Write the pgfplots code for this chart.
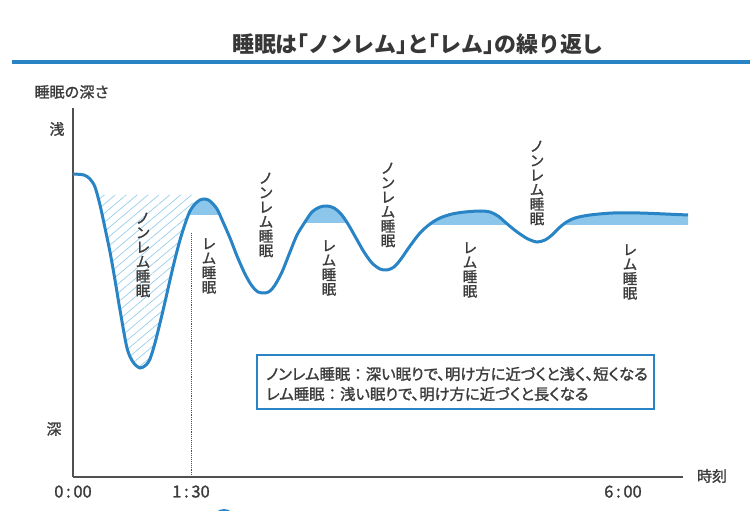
\documentclass[border=0pt]{standalone}
\usepackage{fontspec}
\setmainfont{Noto Sans CJK JP}
\newfontfamily\titlefont{Noto Sans CJK JP}[RawFeature=+halt]
\newfontfamily\lbl{Noto Sans CJK JP}[FakeBold=1.5]
\newfontfamily\boxfont{Noto Sans CJK JP}[RawFeature=+palt, FakeBold=1.5]
\usepackage{pgfplots}
\pgfplotsset{compat=1.18}
\usepgfplotslibrary{fillbetween}
\usetikzlibrary{patterns.meta}
\definecolor{curveblue}{RGB}{40,132,196}
\definecolor{fillblue}{RGB}{140,198,235}
\definecolor{hatchblue}{RGB}{150,205,235}
\definecolor{txt}{RGB}{60,60,60}
\definecolor{axisgray}{RGB}{80,80,80}
\begin{document}
\begin{tikzpicture}
\begin{axis}[
  at={(73bp,34bp)}, anchor=south west,
  scale only axis, width=610bp, height=369bp,
  xmin=73, xmax=683, ymin=34, ymax=403,
  axis x line=bottom, axis y line=left,
  axis line style={-, draw=axisgray, line width=1.3bp},
  xtick={73,191,623}, xticklabels={0\,:\,00,1\,:\,30,6\,:\,00},
  ytick=\empty, major tick length=0pt,
  xticklabel style={font=\lbl\fontsize{16.5}{16.5}\selectfont, text=txt, yshift=-5bp},
  clip=false,
]
\addplot[name path=curve, draw=none, smooth] coordinates {
(73,337)(84,336)(90,332)(95,324)(100,306)(105,283)(110,259)(115,231)(120,201)
(127,163)(133,149)(140,143)(146,146)(150,152)(155,168)(160,188)(165,209)(170,231)
(175,252)(180,271)(185,287)(190,300)(195,307)(200,311)(205,312)(210,310)(217,302)
(223,289)(230,273)(237,255)(245,237)(252,225)(258,219)(265,218)(270,220)(275,226)
(282,239)(290,259)(297,276)(305,289)(312,299)(320,304)(327,305)(334,303)(341,297)
(348,287)(356,273)(364,259)(372,248)(380,242)(387,241)(394,244)(401,252)(410,265)
(420,278)(430,287)(440,293)(452,297)(465,299)(480,300)(490,299)(498,295)(505,289)
(512,283)(520,277)(528,272)(537,269)(545,271)(552,276)(558,282)(565,288)(575,293)
(590,296)(613,298)(640,298)(665,297)(688,296)};
\addplot[name path=H, draw=none] coordinates {(80,316)(210,316)};
\addplot[name path=L1, draw=none] coordinates {(180,296)(230,296)};
\addplot[name path=L2, draw=none] coordinates {(295,288)(355,288)};
\addplot[name path=L3, draw=none] coordinates {(420,286)(515,286)};
\addplot[name path=L4, draw=none] coordinates {(555,286)(690,286)};
\addplot[pattern={Lines[angle=40,distance=7bp,line width=0.7bp]}, pattern color=hatchblue, draw=none]
  fill between[of=curve and H, soft clip={domain=97:193}];
\addplot[fill=fillblue, draw=none] fill between[of=curve and L1, soft clip={domain=188.5:219.5}];
\addplot[fill=fillblue, draw=none] fill between[of=curve and L2, soft clip={domain=304.4:347.3}];
\addplot[fill=fillblue, draw=none] fill between[of=curve and L3, soft clip={domain=429:508.5}];
\addplot[fill=fillblue, draw=none] fill between[of=curve and L4, soft clip={domain=562.7:688}];
\addplot[densely dotted, axisgray, line width=0.9bp] coordinates {(191,34)(191,278)};
\addplot[curveblue, line width=3bp, smooth] coordinates {
(73,337)(84,336)(90,332)(95,324)(100,306)(105,283)(110,259)(115,231)(120,201)
(127,163)(133,149)(140,143)(146,146)(150,152)(155,168)(160,188)(165,209)(170,231)
(175,252)(180,271)(185,287)(190,300)(195,307)(200,311)(205,312)(210,310)(217,302)
(223,289)(230,273)(237,255)(245,237)(252,225)(258,219)(265,218)(270,220)(275,226)
(282,239)(290,259)(297,276)(305,289)(312,299)(320,304)(327,305)(334,303)(341,297)
(348,287)(356,273)(364,259)(372,248)(380,242)(387,241)(394,244)(401,252)(410,265)
(420,278)(430,287)(440,293)(452,297)(465,299)(480,300)(490,299)(498,295)(505,289)
(512,283)(520,277)(528,272)(537,269)(545,271)(552,276)(558,282)(565,288)(575,293)
(590,296)(613,298)(640,298)(665,297)(688,296)};
% title and rule
\node[font=\titlefont\bfseries\fontsize{22}{22}\selectfont, text={rgb,255:red,55;green,55;blue,55}] at (axis cs:418,467) {睡眠は「ノンレム」と「レム」の繰り返し};
\draw[curveblue, line width=4bp] (axis cs:12,449) -- (axis cs:752,449);
% axis texts
\node[font=\lbl\fontsize{15}{15}\selectfont, text=txt] at (axis cs:72,419) {睡眠の深さ};
\node[font=\lbl\fontsize{15}{15}\selectfont, text=txt] at (axis cs:57,382) {浅};
\node[font=\lbl\fontsize{15}{15}\selectfont, text=txt] at (axis cs:54,82) {深};
\node[font=\lbl\fontsize{15}{15}\selectfont, text=txt] at (axis cs:712,35) {時刻};
% vertical labels
\tikzset{vl/.style={font=\lbl\fontsize{14.5}{14.6}\selectfont, text=txt, align=center, inner sep=0pt}}
\node[vl] at (axis cs:143,256) {ノ\\ン\\レ\\ム\\睡\\眠};
\node[vl] at (axis cs:209,245) {レ\\ム\\睡\\眠};
\node[vl] at (axis cs:266,296) {ノ\\ン\\レ\\ム\\睡\\眠};
\node[vl] at (axis cs:329,243) {レ\\ム\\睡\\眠};
\node[vl] at (axis cs:388,306) {ノ\\ン\\レ\\ム\\睡\\眠};
\node[vl] at (axis cs:470,241) {レ\\ム\\睡\\眠};
\node[vl] at (axis cs:537,328) {ノ\\ン\\レ\\ム\\睡\\眠};
\node[vl] at (axis cs:630,239) {レ\\ム\\睡\\眠};
% box
\draw[curveblue, line width=1.5bp, fill=white] (axis cs:257,156) rectangle (axis cs:654,102);
\node[anchor=west, font=\boxfont\fontsize{15.4}{15.4}\selectfont, text=txt, inner sep=0pt] at (axis cs:266,137)
  {ノンレム睡眠\hspace{4bp}：\hspace{4bp}深い眠りで、明け方に近づくと浅く、短くなる};
\node[anchor=west, font=\boxfont\fontsize{15.4}{15.4}\selectfont, text=txt, inner sep=0pt] at (axis cs:266,117)
  {レム睡眠\hspace{4bp}：\hspace{4bp}浅い眠りで、明け方に近づくと長くなる};
\fill[curveblue] (axis cs:224,-9) circle (11bp);
\end{axis}
\pgfresetboundingbox
\path[use as bounding box] (0,0) rectangle (750bp,511bp);
\end{tikzpicture}
\end{document}
